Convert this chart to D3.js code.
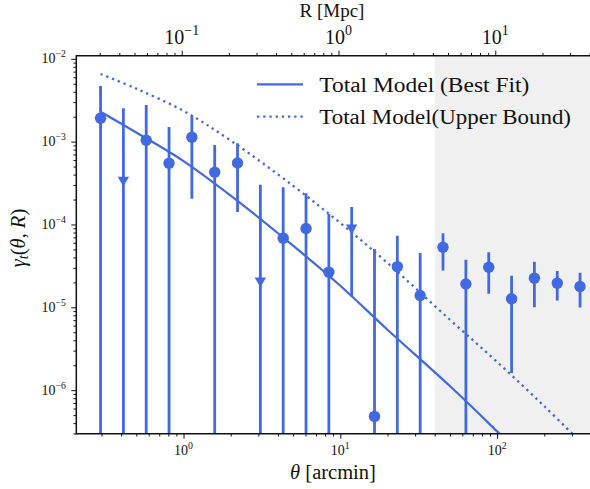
<!DOCTYPE html>
<html>
<head>
<meta charset="utf-8">
<script src="https://cdn.jsdelivr.net/npm/d3@7"></script>
<style>
  body { margin: 0; background: #fff; }
  svg { display: block; }
  svg text { font-family: "Liberation Serif", "Times New Roman", "DejaVu Serif", Times, serif; }
</style>
</head>
<body>
<svg id="chart" width="590" height="489"></svg>
<script>
// Angular bin centres (arcmin)
const theta = [0.2957, 0.4135, 0.5782, 0.8084, 1.1305, 1.5808, 2.2105, 3.0909,
               4.3222, 6.0438, 8.4511, 11.818, 16.525, 23.107, 32.311, 45.181,
               63.23, 88.45, 123.7, 172.9, 241.9, 338.1];
// Measured tangential shear
const gammaT = [1.915e-3, 3.45e-4, 1.04e-3, 5.49e-4, 1.13e-3, 4.28e-4, 5.53e-4, 2.09e-5,
                6.84e-5, 8.93e-5, 2.66e-5, 9.10e-5, 4.82e-7, 3.10e-5, 1.39e-5, 5.32e-5,
                1.91e-5, 3.05e-5, 1.27e-5, 2.25e-5, 1.96e-5, 1.78e-5];
// Upper end of each error bar
const errHigh = [4.70e-3, 2.53e-3, 2.77e-3, 1.50e-3, 2.06e-3, 9.12e-4, 9.57e-4, 3.01e-4,
                 2.82e-4, 2.39e-4, 1.34e-4, 1.62e-4, 5.04e-5, 7.29e-5, 4.51e-5, 7.85e-5,
                 3.74e-5, 4.63e-5, 2.40e-5, 3.54e-5, 2.75e-5, 2.61e-5];
// Lower end of each error bar (null: bar reaches zero, i.e. runs off the log axis)
const errLow = [null, null, null, null, 2.04e-4, null, 1.41e-4, null,
                null, null, null, 1.35e-5, null, null, null, 2.78e-5,
                null, 1.46e-5, 1.61e-6, 1.00e-5, 1.21e-5, 9.95e-6];
// Bins shown as upper limits
const upperLimit = [false, true, false, false, false, false, false, true,
                    false, false, false, true, false, false, false, false,
                    false, false, false, false, false, false];

// Model curves
const modelTheta = [0.2957, 0.5, 1, 2, 5, 10, 20, 50, 100, 200, 338.1];
const bestFit    = [2.30e-3, 1.29e-3, 5.83e-4, 2.23e-4, 5.55e-5, 1.82e-5, 5.36e-6, 1.12e-6, 3.18e-7, 8.8e-8, 3.3e-8];
const upperBound = [6.56e-3, 4.36e-3, 2.35e-3, 1.03e-3, 2.93e-4, 1.04e-4, 3.43e-5, 7.08e-6, 2.19e-6, 6.4e-7, 2.4e-7];

// Axis ticks (major) and conversion to physical scale
const xMajor = [1, 10, 100];
const yMajor = [1e-6, 1e-5, 1e-4, 1e-3, 1e-2];
const rMajor = [0.1, 1, 10];
const mpcPerArcmin = 0.1027;
const shadeFrom = 40;   // arcmin, start of shaded range

const blue = "#4169e1";
const plot = { left: 76.3, right: 590, top: 55.7, bottom: 433.7 };

const svg = d3.select("#chart");

const x = d3.scaleLog().domain([0.2071, 391.3]).range([plot.left, plot.right]);
const y = d3.scaleLog().domain([2.98e-7, 1.09e-2]).range([plot.bottom, plot.top]);
const xTop = d3.scaleLog().domain(x.domain().map(v => v * mpcPerArcmin)).range(x.range());

svg.append("defs").append("clipPath").attr("id", "clip")
  .append("rect")
  .attr("x", plot.left).attr("y", plot.top)
  .attr("width", plot.right - plot.left).attr("height", plot.bottom - plot.top);

// shaded range
svg.append("rect")
  .attr("x", x(shadeFrom)).attr("y", plot.top)
  .attr("width", plot.right - x(shadeFrom)).attr("height", plot.bottom - plot.top)
  .attr("fill", "#f0f0f0");

const isPow10 = v => Math.abs(Math.log10(v) - Math.round(Math.log10(v))) < 1e-9;
const minorOf = (scale) => scale.ticks().filter(v => !isPow10(v));

function drawTicks(axisGen, scale, majors, transform) {
  const gMaj = svg.append("g").attr("transform", transform)
    .call(axisGen(scale).tickValues(majors).tickSize(5).tickSizeOuter(0).tickFormat(""));
  const gMin = svg.append("g").attr("transform", transform)
    .call(axisGen(scale).tickValues(minorOf(scale)).tickSize(2.8).tickSizeOuter(0).tickFormat(""));
  [gMaj, gMin].forEach(g => {
    g.select(".domain").remove();
    g.selectAll("line").attr("stroke", "#111").attr("stroke-width", 1);
  });
}
drawTicks(d3.axisBottom, x, xMajor, `translate(0,${plot.bottom})`);
drawTicks(d3.axisLeft, y, yMajor, `translate(${plot.left},0)`);
drawTicks(d3.axisTop, xTop, rMajor, `translate(0,${plot.top})`);

// power-of-ten tick labels
function powLabel(g, v, px, py, size, anchor) {
  const e = Math.round(Math.log10(v));
  const t = g.append("text").attr("x", px).attr("y", py)
    .attr("text-anchor", anchor).attr("font-size", size).attr("fill", "#111");
  t.append("tspan").text("10");
  t.append("tspan").attr("font-size", size * 0.7).attr("dy", -size * 0.42)
    .text(e < 0 ? "\u2212" + (-e) : String(e));
}
const labels = svg.append("g");
xMajor.forEach(v => powLabel(labels, v, x(v), 455, 14, "middle"));
yMajor.forEach(v => powLabel(labels, v, 66, y(v) + 4.5, 14, "end"));
rMajor.forEach(v => powLabel(labels, v, xTop(v), 43.5, 20, "middle"));

// model curves
const line = d3.line().x((d, i) => x(modelTheta[i])).y(d => y(d)).curve(d3.curveCatmullRom.alpha(0.5));
const curves = svg.append("g").attr("clip-path", "url(#clip)");
curves.append("path").attr("d", line(upperBound))
  .attr("fill", "none").attr("stroke", blue).attr("stroke-width", 2.3)
  .attr("stroke-dasharray", "2.3,3.9");
curves.append("path").attr("d", line(bestFit))
  .attr("fill", "none").attr("stroke", blue).attr("stroke-width", 2.2);

// data points with error bars
const pts = svg.append("g").attr("clip-path", "url(#clip)");
theta.forEach((t, i) => {
  const px = x(t);
  const yLo = errLow[i] === null ? plot.bottom + 5 : y(errLow[i]);
  pts.append("line")
    .attr("x1", px).attr("x2", px)
    .attr("y1", y(errHigh[i])).attr("y2", yLo)
    .attr("stroke", blue).attr("stroke-width", 2.8);
  if (upperLimit[i]) {
    pts.append("path")
      .attr("d", d3.symbol(d3.symbolTriangle, 56)())
      .attr("transform", `translate(${px},${y(gammaT[i])}) rotate(180)`)
      .attr("fill", blue);
  } else {
    pts.append("circle").attr("cx", px).attr("cy", y(gammaT[i])).attr("r", 5.7)
      .attr("fill", blue);
  }
});

// frame
svg.append("path")
  .attr("d", `M${plot.right},${plot.top}H${plot.left}V${plot.bottom}H${plot.right}`)
  .attr("fill", "none").attr("stroke", "#111").attr("stroke-width", 1.5);

// legend
const legend = svg.append("g");
const legendItems = [
  { label: "Total Model (Best Fit)", dash: null, y: 84.3, width: 210 },
  { label: "Total Model(Upper Bound)", dash: "2.3,3.9", y: 116.7, width: 251.7 }
];
legendItems.forEach(d => {
  legend.append("line")
    .attr("x1", 257).attr("x2", 303).attr("y1", d.y).attr("y2", d.y)
    .attr("stroke", blue).attr("stroke-width", 2.3)
    .attr("stroke-dasharray", d.dash);
  legend.append("text")
    .attr("x", 319.3).attr("y", d.y + 7.3)
    .attr("font-size", 20.5).attr("fill", "#111")
    .attr("textLength", d.width).attr("lengthAdjust", "spacingAndGlyphs")
    .text(d.label);
});

// axis titles
const xt = svg.append("text").attr("x", 333).attr("y", 478.5)
  .attr("text-anchor", "middle").attr("font-size", 20.5).attr("fill", "#111");
xt.append("tspan").attr("font-style", "italic").text("\u03b8");
xt.append("tspan").text(" [arcmin]");

svg.append("text").attr("x", 332).attr("y", 17)
  .attr("text-anchor", "middle").attr("font-size", 19).attr("fill", "#111")
  .text("R [Mpc]");

const yt = svg.append("text")
  .attr("transform", "translate(25,238) rotate(-90)")
  .attr("text-anchor", "middle").attr("font-size", 20.5).attr("fill", "#111");
yt.append("tspan").attr("font-style", "italic").text("\u03b3");
yt.append("tspan").attr("font-style", "italic").attr("font-size", 14).attr("dy", 3).text("t");
yt.append("tspan").attr("dy", -3).text("(");
yt.append("tspan").attr("font-style", "italic").text("\u03b8");
yt.append("tspan").text(", ");
yt.append("tspan").attr("font-style", "italic").text("R");
yt.append("tspan").text(")");
</script>
</body>
</html>
